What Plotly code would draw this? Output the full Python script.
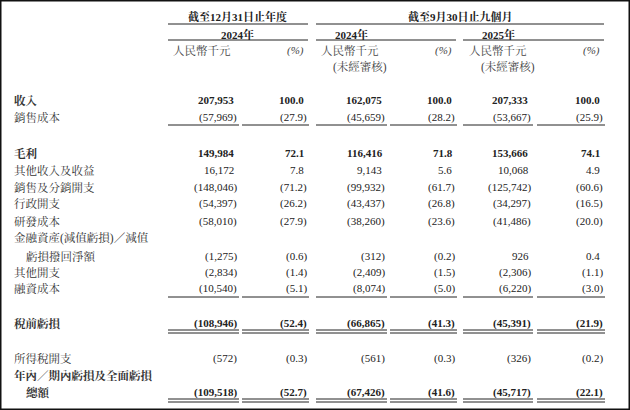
import plotly.graph_objects as go

labels = ["收入", "銷售成本", "毛利", "其他收入及收益", "銷售及分銷開支", "行政開支", "研發成本",
          "金融資產(減值虧損)／減值", "  虧損撥回淨額", "其他開支", "融資成本", "稅前虧損",
          "所得稅開支", "年內／期內虧損及全面虧損", "  總額"]
bold = [True, False, True, False, False, False, False, False, False, False, False, True, False, True, True]
fy2024_amt = [207953, -57969, 149984, 16172, -148046, -54397, -58010, None, -1275, -2834, -10540, -108946, -572, None, -109518]
fy2024_pct = [100.0, -27.9, 72.1, 7.8, -71.2, -26.2, -27.9, None, -0.6, -1.4, -5.1, -52.4, -0.3, None, -52.7]
m9_2024_amt = [162075, -45659, 116416, 9143, -99932, -43437, -38260, None, -312, -2409, -8074, -66865, -561, None, -67426]
m9_2024_pct = [100.0, -28.2, 71.8, 5.6, -61.7, -26.8, -23.6, None, -0.2, -1.5, -5.0, -41.3, -0.3, None, -41.6]
m9_2025_amt = [207333, -53667, 153666, 10068, -125742, -34297, -41486, None, 926, -2306, -6220, -45391, -326, None, -45717]
m9_2025_pct = [100.0, -25.9, 74.1, 4.9, -60.6, -16.5, -20.0, None, 0.4, -1.1, -3.0, -21.9, -0.2, None, -22.1]
row_y = [100, 117, 153, 170, 187, 203, 221, 238, 256, 272, 288, 323, 358, 375, 392]

cols = [(fy2024_amt, True), (fy2024_pct, False), (m9_2024_amt, True), (m9_2024_pct, False),
        (m9_2025_amt, True), (m9_2025_pct, False)]
col_right = [239, 309, 387, 457, 533, 605]
seg = [(168, 239), (242, 309), (316, 387), (390, 457), (463, 533), (537, 605)]

FONT = "Liberation Serif, Noto Serif CJK TC, Noto Sans CJK TC"
fig = go.Figure()
ann = []
shapes = []

def txt(x, y, t, anchor="left", size=11, b=False, color="#222", italic=False):
    if b:
        t = "<b>" + t + "</b>"
    if italic:
        t = "<i>" + t + "</i>"
    ann.append(dict(x=x, y=y, text=t, xref="x", yref="y", showarrow=False, xanchor=anchor,
                    yanchor="middle", font=dict(family=FONT, size=size, color=color)))

def line(x0, x1, y, w=1):
    shapes.append(dict(type="line", x0=x0, x1=x1, y0=y, y1=y, xref="x", yref="y",
                       line=dict(color="#222", width=w)))

# headers
txt(237, 16, "截至12月31日止年度", "center", 11, True)
txt(460, 16, "截至9月30日止九個月", "center", 11, True)
line(168, 308, 24); line(316, 604, 24)
txt(237, 34, "2024年", "center", 11, True)
txt(351, 34, "2024年", "center", 11, True)
txt(498, 34, "2025年", "center", 11, True)
line(168, 308, 40); line(316, 456, 40); line(463, 604, 40)
for cx, px in [(171, 285), (319, 433), (467, 581)]:
    txt(cx, 50, "人民幣千元", "left", 11.5, color="#444")
    txt(px, 50, "(%)", "left", 11, color="#444", italic=True)
txt(360, 67, "(未經審核)", "center", 11.5, color="#444")
txt(508, 67, "(未經審核)", "center", 11.5, color="#444")

def fmt(v, is_amt):
    if v is None:
        return ""
    s = f"{abs(v):,}" if is_amt else f"{abs(v):.1f}"
    return f"({s})" if v < 0 else s + "&nbsp;"

for i, lab in enumerate(labels):
    y = row_y[i]
    txt(12 + (12 if lab.startswith("  ") else 0), y, lab.strip(), "left", 11.5, bold[i], color="#333")
    for (vals, is_amt), xr in zip(cols, col_right):
        t = fmt(vals[i], is_amt)
        if t:
            txt(xr, y, t, "right", 11, bold[i], color="#222")

for a, b in seg:
    line(a, b, 125); line(a, b, 297)
    line(a, b, 330); line(a, b, 333)
    line(a, b, 399); line(a, b, 402)

shapes.append(dict(type="rect", x0=0.5, x1=629.5, y0=0.5, y1=409.5, xref="x", yref="y",
                   line=dict(color="#111", width=2)))

fig.update_layout(width=630, height=410, margin=dict(l=0, r=0, t=0, b=0),
                  paper_bgcolor="white", plot_bgcolor="white",
                  xaxis=dict(range=[0, 630], visible=False, fixedrange=True),
                  yaxis=dict(range=[410, 0], visible=False, fixedrange=True),
                  annotations=ann, shapes=shapes, showlegend=False)
fig.write_html("out.html", config={"displayModeBar": False},
               post_script="document.body.style.margin='0px';document.body.style.overflow='hidden';")
